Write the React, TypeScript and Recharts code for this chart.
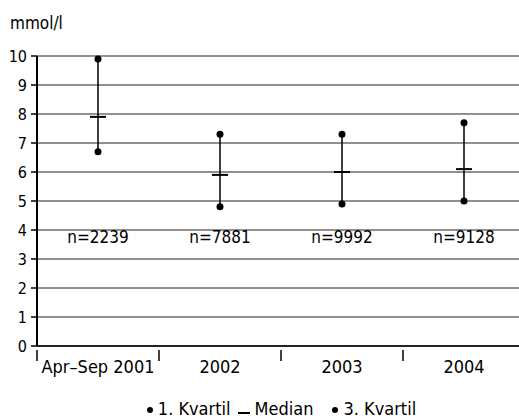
import React from 'react';
import {
  ComposedChart,
  Bar,
  Scatter,
  XAxis,
  YAxis,
  CartesianGrid,
  Legend,
} from 'recharts';

const categories = ['Apr–Sep 2001', '2002', '2003', '2004'];
const quartile1 = [6.7, 4.8, 4.9, 5.0];
const medians = [7.9, 5.9, 6.0, 6.1];
const quartile3 = [9.9, 7.3, 7.3, 7.7];
const counts = ['n=2239', 'n=7881', 'n=9992', 'n=9128'];
const yTicks = [0, 1, 2, 3, 4, 5, 6, 7, 8, 9, 10];
const countLevel = 3.75;

const FONT = "'Liberation Sans Narrow', 'Arial Narrow', 'DejaVu Sans Condensed', sans-serif";

const chartData = categories.map((name, i) => ({
  name,
  range: [quartile1[i], quartile3[i]],
  q1: quartile1[i],
  median: medians[i],
  q3: quartile3[i],
  nLevel: countLevel,
  n: counts[i],
}));

const Whisker = (props: any) => {
  const { x, y, width, height } = props;
  const cx = x + width / 2;
  return <line x1={cx} x2={cx} y1={y} y2={y + height} stroke="#000" strokeWidth={1.5} />;
};

const Dot = (props: any) => <circle cx={props.cx} cy={props.cy} r={3.5} fill="#000" />;

const MedianMark = (props: any) => (
  <line x1={props.cx - 8} x2={props.cx + 8} y1={props.cy} y2={props.cy} stroke="#000" strokeWidth={2} />
);

const CountLabel = (props: any) => (
  <text x={props.cx} y={props.cy} textAnchor="middle" dominantBaseline="central" fontSize={17} fill="#000" fontFamily={FONT}>
    {props.payload.n}
  </text>
);

const CategoryTick = (props: any) => {
  const { x, y, payload, index } = props;
  const half = payload.offset || 0;
  return (
    <g>
      <text x={x} y={y + 12} textAnchor="middle" dominantBaseline="central" fontSize={18} fill="#000" fontFamily={FONT}>
        {payload.value}
      </text>
      {index === 0 && <line x1={x - half} x2={x - half} y1={y - 4} y2={y + 7} stroke="#000" strokeWidth={1.5} />}
      {index < categories.length - 1 && (
        <line x1={x + half} x2={x + half} y1={y - 4} y2={y + 7} stroke="#000" strokeWidth={1.5} />
      )}
    </g>
  );
};

const LegendContent = () => (
  <div style={{ display: 'flex', justifyContent: 'center', alignItems: 'center', fontFamily: FONT, fontSize: 18, color: '#000', lineHeight: '21px', paddingLeft: 37 }}>
    <svg width={8} height={10} style={{ marginRight: 4 }}>
      <circle cx={4} cy={6} r={3} fill="#000" />
    </svg>
    <span style={{ marginRight: 7 }}>1. Kvartil</span>
    <svg width={12} height={12} style={{ marginRight: 5 }}>
      <line x1={0} x2={12} y1={10} y2={10} stroke="#000" strokeWidth={2} />
    </svg>
    <span style={{ marginRight: 18 }}>Median</span>
    <svg width={8} height={10} style={{ marginRight: 4 }}>
      <circle cx={4} cy={6} r={3} fill="#000" />
    </svg>
    <span>3. Kvartil</span>
  </div>
);

export default function App() {
  return (
    <div style={{ position: 'absolute', left: 0, top: 0, width: 519, height: 418, overflow: 'hidden', background: '#fff' }}>
      <ComposedChart
        width={540}
        height={418}
        data={chartData}
        margin={{ top: 56, right: 15, left: 0, bottom: 21 }}
        barCategoryGap="0%"
      >
        <CartesianGrid horizontal vertical={false} stroke="#222" strokeWidth={1} />
        <XAxis
          dataKey="name"
          tick={<CategoryTick />}
          tickLine={false}
          axisLine={{ stroke: '#000', strokeWidth: 1.5 }}
          height={30}
          interval={0}
        />
        <YAxis
          domain={[0, 10]}
          ticks={yTicks}
          width={37}
          tickSize={6}
          tickMargin={4}
          interval={0}
          axisLine={{ stroke: '#000', strokeWidth: 2 }}
          tickLine={{ stroke: '#000', strokeWidth: 1.5 }}
          tick={{ fill: '#000', fontSize: 16, fontFamily: FONT }}
          label={{
            content: (p: any) => (
              <text x={10} y={p.viewBox.y - 27} fontSize={17} fill="#000" fontFamily={FONT}>
                mmol/l
              </text>
            ),
          }}
        />
        <Bar dataKey="range" shape={<Whisker />} isAnimationActive={false} legendType="none" />
        <Scatter dataKey="q1" name="1. Kvartil" shape={<Dot />} isAnimationActive={false} />
        <Scatter dataKey="median" name="Median" shape={<MedianMark />} isAnimationActive={false} />
        <Scatter dataKey="q3" name="3. Kvartil" shape={<Dot />} isAnimationActive={false} />
        <Scatter dataKey="nLevel" shape={<CountLabel />} isAnimationActive={false} legendType="none" />
        <Legend content={<LegendContent />} verticalAlign="bottom" wrapperStyle={{ bottom: -1 }} />
      </ComposedChart>
    </div>
  );
}
